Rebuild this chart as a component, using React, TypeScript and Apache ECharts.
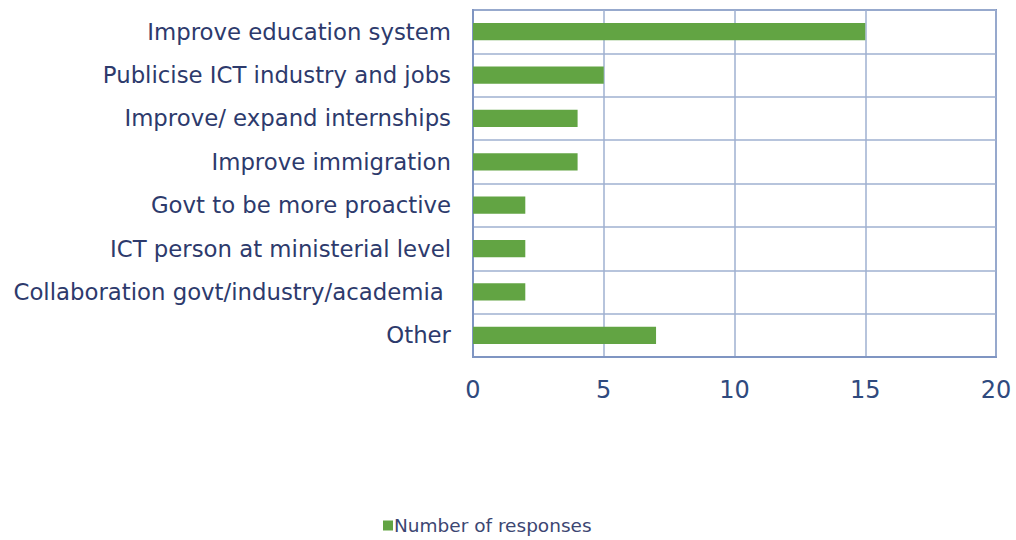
import React, { useEffect, useRef } from "react";
import * as echarts from "echarts";

const categories = [
  "Improve education system",
  "Publicise ICT industry and jobs",
  "Improve/ expand internships",
  "Improve immigration",
  "Govt to be more proactive",
  "ICT person at ministerial level",
  "Collaboration govt/industry/academia ",
  "Other",
];
const responses = [15, 5, 4, 4, 2, 2, 2, 7];
const seriesName = "Number of responses";

export default function App() {
  const ref = useRef<HTMLDivElement>(null);
  useEffect(() => {
    if (!ref.current) return;
    const chart = echarts.init(ref.current, undefined, { renderer: "svg" });
    chart.setOption({
      animation: false,
      backgroundColor: "#ffffff",
      textStyle: { fontFamily: "DejaVu Sans" },
      grid: {
        left: 473,
        right: 20,
        top: 10,
        bottom: 183,
        show: true,
        borderColor: "#7f95c2",
        borderWidth: 2,
        backgroundColor: "transparent",
      },
      legend: {
        bottom: 0,
        left: 378,
        itemWidth: 10,
        itemHeight: 10,
        itemGap: 4,
        icon: "rect",
        textStyle: { color: "#3c4672", fontSize: 18.5, fontFamily: "DejaVu Sans", padding: [0, 0, 0, -4] },
        data: [seriesName],
      },
      xAxis: {
        type: "value",
        min: 0,
        max: 20,
        interval: 5,
        axisLine: { show: true, lineStyle: { color: "#7f95c2", width: 2 } },
        axisTick: { show: false },
        splitLine: { show: true, lineStyle: { color: "#9fb0d0", width: 1.5 } },
        axisLabel: { color: "#2f4a7e", fontSize: 24, margin: 21 },
      },
      yAxis: {
        type: "category",
        inverse: true,
        data: categories,
        axisLine: { show: true, lineStyle: { color: "#7f95c2", width: 2 } },
        axisTick: { show: false },
        splitLine: { show: true, lineStyle: { color: "#9fb0d0", width: 1.5 } },
        axisLabel: { color: "#2d3a6c", fontSize: 22.8, margin: 22 },
      },
      series: [
        {
          name: seriesName,
          type: "bar",
          data: responses,
          barWidth: "40%",
          itemStyle: { color: "#62a443" },
        },
      ],
    });
    return () => chart.dispose();
  }, []);
  return (
    <div
      ref={ref}
      style={{ position: "fixed", left: 0, top: 0, width: 1016, height: 540 }}
    />
  );
}
